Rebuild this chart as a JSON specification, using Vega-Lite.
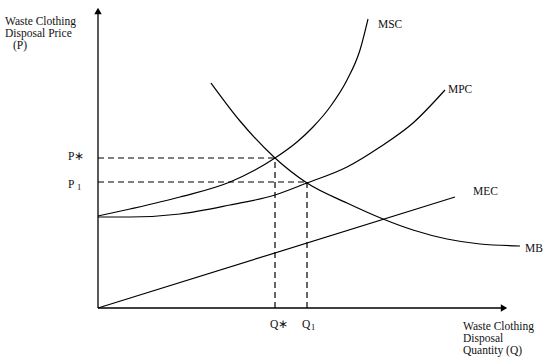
{
  "$schema": "https://vega.github.io/schema/vega-lite/v6.json",
  "width": 550,
  "height": 363,
  "autosize": {"type": "fit", "contains": "padding"},
  "padding": 0,
  "background": "white",
  "config": {"view": {"stroke": null}},
  "datasets": {
    "curves": [
      {"curve": "MSC", "i": 0, "x": 0, "y": 92},
      {"curve": "MSC", "i": 1, "x": 32, "y": 99},
      {"curve": "MSC", "i": 2, "x": 82, "y": 111},
      {"curve": "MSC", "i": 3, "x": 132, "y": 126},
      {"curve": "MSC", "i": 4, "x": 157, "y": 138},
      {"curve": "MSC", "i": 5, "x": 177, "y": 150},
      {"curve": "MSC", "i": 6, "x": 199, "y": 166},
      {"curve": "MSC", "i": 7, "x": 215, "y": 181},
      {"curve": "MSC", "i": 8, "x": 232, "y": 201},
      {"curve": "MSC", "i": 9, "x": 249, "y": 228},
      {"curve": "MSC", "i": 10, "x": 262, "y": 258},
      {"curve": "MSC", "i": 11, "x": 270, "y": 289},
      {"curve": "MPC", "i": 0, "x": 0, "y": 91},
      {"curve": "MPC", "i": 1, "x": 32, "y": 91},
      {"curve": "MPC", "i": 2, "x": 82, "y": 94},
      {"curve": "MPC", "i": 3, "x": 132, "y": 103},
      {"curve": "MPC", "i": 4, "x": 177, "y": 113},
      {"curve": "MPC", "i": 5, "x": 209, "y": 125},
      {"curve": "MPC", "i": 6, "x": 249, "y": 141},
      {"curve": "MPC", "i": 7, "x": 282, "y": 161},
      {"curve": "MPC", "i": 8, "x": 315, "y": 185},
      {"curve": "MPC", "i": 9, "x": 347, "y": 218},
      {"curve": "MB", "i": 0, "x": 113, "y": 225},
      {"curve": "MB", "i": 1, "x": 142, "y": 187},
      {"curve": "MB", "i": 2, "x": 177, "y": 150},
      {"curve": "MB", "i": 3, "x": 209, "y": 125},
      {"curve": "MB", "i": 4, "x": 249, "y": 105},
      {"curve": "MB", "i": 5, "x": 285, "y": 89},
      {"curve": "MB", "i": 6, "x": 315, "y": 78},
      {"curve": "MB", "i": 7, "x": 349, "y": 69},
      {"curve": "MB", "i": 8, "x": 382, "y": 64},
      {"curve": "MB", "i": 9, "x": 422, "y": 62},
      {"curve": "MEC", "i": 0, "x": 0, "y": 0},
      {"curve": "MEC", "i": 1, "x": 357, "y": 111}
    ],
    "segs": [
      {"kind": "axis", "x": 0, "y": 0, "x2": 0, "y2": 298},
      {"kind": "axis", "x": 0, "y": 0, "x2": 407, "y2": 0},
      {"kind": "dash", "x": 0, "y": 150, "x2": 177, "y2": 150},
      {"kind": "dash", "x": 177, "y": 0, "x2": 177, "y2": 150},
      {"kind": "dash", "x": 0, "y": 126, "x2": 209, "y2": 126},
      {"kind": "dash", "x": 209, "y": 0, "x2": 209, "y2": 126}
    ],
    "arrows": [
      {"shape": "triangle-up", "x": 0, "y": 297},
      {"shape": "triangle-right", "x": 406, "y": 0}
    ],
    "labels": [
      {"text": "P∗", "x": -30, "y": 151},
      {"text": "P", "x": -30, "y": 123},
      {"text": "Q∗", "x": 172, "y": -17},
      {"text": "Q", "x": 204, "y": -17},
      {"text": "MSC", "x": 280, "y": 283},
      {"text": "MPC", "x": 350, "y": 218},
      {"text": "MEC", "x": 375, "y": 116},
      {"text": "MB", "x": 427, "y": 59}
    ],
    "subs": [
      {"text": "1", "x": -21, "y": 121},
      {"text": "1", "x": 213, "y": -19}
    ],
    "titles": [
      {"text": "Waste Clothing", "x": -93, "y": 286},
      {"text": "Disposal Price", "x": -93, "y": 274},
      {"text": "(P)", "x": -85, "y": 262},
      {"text": "Waste Clothing", "x": 365, "y": -19},
      {"text": "Disposal", "x": 365, "y": -31},
      {"text": "Quantity (Q)", "x": 365, "y": -43}
    ]
  },
  "encoding": {
    "x": {"field": "x", "type": "quantitative", "scale": {"domain": [-98, 452], "nice": false, "zero": false}, "axis": null},
    "y": {"field": "y", "type": "quantitative", "scale": {"domain": [-55, 308], "nice": false, "zero": false}, "axis": null}
  },
  "layer": [
    {
      "data": {"name": "segs"},
      "transform": [{"filter": "datum.kind === 'axis'"}],
      "mark": {"type": "rule", "color": "black", "strokeWidth": 1.3},
      "encoding": {"x2": {"field": "x2"}, "y2": {"field": "y2"}}
    },
    {
      "data": {"name": "segs"},
      "transform": [{"filter": "datum.kind === 'dash'"}],
      "mark": {"type": "rule", "color": "black", "strokeWidth": 1.2, "strokeDash": [6, 4]},
      "encoding": {"x2": {"field": "x2"}, "y2": {"field": "y2"}}
    },
    {
      "data": {"name": "curves"},
      "mark": {"type": "line", "color": "black", "strokeWidth": 1.2, "interpolate": "monotone"},
      "encoding": {
        "detail": {"field": "curve", "type": "nominal"},
        "order": {"field": "i", "type": "quantitative"}
      }
    },
    {
      "data": {"name": "arrows"},
      "mark": {"type": "point", "filled": true, "color": "black", "opacity": 1, "size": 55},
      "encoding": {"shape": {"field": "shape", "type": "nominal", "scale": null}}
    },
    {
      "data": {"name": "labels"},
      "mark": {"type": "text", "align": "left", "baseline": "middle", "font": "Liberation Serif", "fontSize": 11.5, "color": "#111"},
      "encoding": {"text": {"field": "text", "type": "nominal"}}
    },
    {
      "data": {"name": "subs"},
      "mark": {"type": "text", "align": "left", "baseline": "middle", "font": "Liberation Serif", "fontSize": 8.5, "color": "#111"},
      "encoding": {"text": {"field": "text", "type": "nominal"}}
    },
    {
      "data": {"name": "titles"},
      "mark": {"type": "text", "align": "left", "baseline": "middle", "font": "Liberation Serif", "fontSize": 11.5, "color": "#111"},
      "encoding": {"text": {"field": "text", "type": "nominal"}}
    }
  ]
}
